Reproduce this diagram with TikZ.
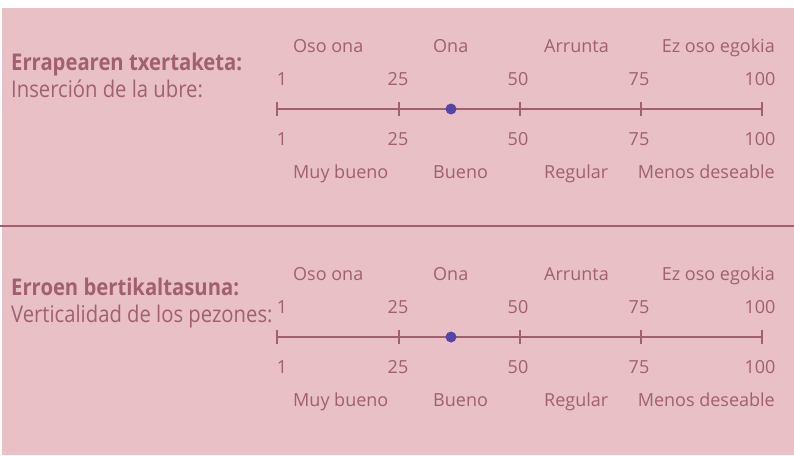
\documentclass[tikz,border=0pt]{standalone}
\usepackage{fontspec}
\setmainfont{Open Sans}
\newfontfamily\condfont[FakeStretch=0.88]{Open Sans}
\usetikzlibrary{positioning}
\definecolor{rosebg}{HTML}{E8C0C6}
\definecolor{mauve}{HTML}{A0606F}
\definecolor{dotblue}{HTML}{5546A5}
\tikzset{
	heading/.style={
		text=mauve,
		anchor=base west,
		inner sep=0pt,
		font={\condfont\bfseries\fontsize{23}{26}\selectfont}
	},
	subheading/.style={
		text=mauve,
		anchor=base west,
		inner sep=0pt,
		font={\condfont\fontsize{23}{26}\selectfont}
	},
	scalelabel/.append style={
		text=mauve,
		anchor=base,
		inner sep=0pt,
		font={\fontsize{18}{21}\selectfont}
	},
	scaleline/.style={draw=mauve, line width=1.5pt},
	divider/.style={draw=mauve, line width=1.2pt},
	marker/.style={circle, fill=dotblue, minimum size=11pt, inner sep=0pt},
}

\begin{document}
\begin{tikzpicture}[x=1pt, y=-1pt]
		\useasboundingbox (0,0) rectangle (794,455);
		\fill[rosebg] (2,8) rectangle (794,455);
		\draw[divider] (0,226) -- (794,226);
		
		\foreach \sec/\yy/\hy/\head/\sub in {up/0/0/{Errapearen txertaketa:}/{Inserción de la ubre:}, low/228/225/{Erroen bertikaltasuna:}/{Verticalidad de los pezones:}}{
			\node(\sec head)[heading] at (11,70+\hy) {\head};
			\node(\sec sub)[subheading] at (11,97+\hy) {\sub};
			
			% upper and lower ratings
			\node(\sec good)[scalelabel, anchor=base west] at (293,52+\yy) {Oso ona};
			\node(\sec ok)[scalelabel, anchor=base west] at (433,52+\yy) {Ona};
			\node(\sec avg)[scalelabel, anchor=base west] at (544,52+\yy) {Arrunta};
			\node(\sec poor)[scalelabel, anchor=base east] at (775,52+\yy) {Ez oso egokia};
			\node(\sec mb)[scalelabel, anchor=base west] at (293,178+\yy) {Muy bueno};
			\node(\sec bu)[scalelabel, anchor=base west] at (433,178+\yy) {Bueno};
			\node(\sec re)[scalelabel, anchor=base west] at (544,178+\yy) {Regular};
			\node(\sec md)[scalelabel, anchor=base east] at (775,178+\yy) {Menos deseable};
			
			\foreach \t/\x/\n in {277/282/1, 399/398/25, 520/518/50, 641/639/75, 762/760/100}{
				\coordinate(\sec tick\n) at (\t,109+\yy);
				\draw[scaleline] ([yshift=7pt]\sec tick\n) -- ([yshift=-7pt]\sec tick\n);
				\node(\sec top\n)[scalelabel] at (\x,85+\yy) {\n};
				\node(\sec bot\n)[scalelabel] at (\x,145+\yy) {\n};
			};
			\draw[scaleline] (\sec tick1) -- (\sec tick100);
			\node(\sec dot)[marker] at (451,109+\yy) {};
		};
\end{tikzpicture}
\end{document}
